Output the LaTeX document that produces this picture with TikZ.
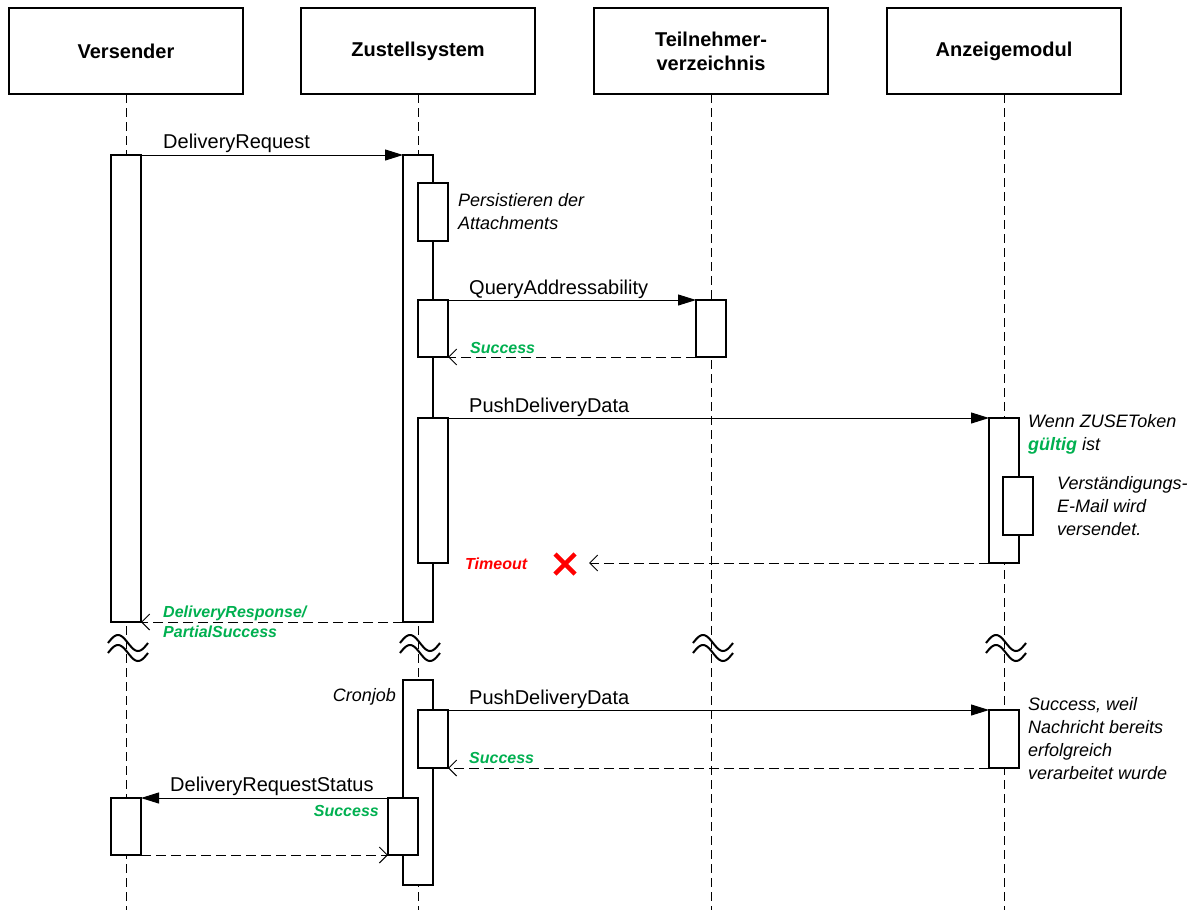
\documentclass[tikz,border=0pt]{standalone}
\usepackage{fontspec}
\setmainfont{Liberation Sans}
\usetikzlibrary{arrows.meta}
\definecolor{okgreen}{RGB}{0,176,80}
\definecolor{xred}{RGB}{255,0,0}
\newcommand\lifebreak[2]{%
  \draw[brk] plot[domain=0:360,samples=40] ({#1-20+\x/9},{#2-8*sin(\x)});
  \draw[brk] plot[domain=0:360,samples=40] ({#1-20+\x/9},{#2+10-8*sin(\x)});}
\begin{document}
\begin{tikzpicture}[x=1pt,y=-1pt,
 head/.style={draw, line width=1.5pt, minimum width=234pt, minimum height=86pt, inner sep=0pt, outer sep=0pt, align=center, font=\fontsize{20}{24}\selectfont\bfseries},
 life/.style={line width=1pt, dash pattern=on 9pt off 5pt},
 act/.style={draw, fill=white, line width=2pt, minimum width=30pt, inner sep=0pt, outer sep=0pt},
 call/.style={line width=1pt, -{Triangle[length=18pt,width=11pt]}},
 reply/.style={line width=1pt, dash pattern=on 10pt off 5pt, -{Straight Barb[length=8pt,width=16pt]}},
 lbl/.style={anchor=base west, inner sep=0pt, font=\fontsize{20}{24}\selectfont},
 note/.style={anchor=base west, inner sep=0pt, align=left, font=\fontsize{18}{23}\selectfont\itshape},
 glbl/.style={anchor=base west, inner sep=0pt, align=left, text=okgreen, font=\fontsize{16}{20}\selectfont\bfseries\itshape},
 brk/.style={line width=2pt},
]
\useasboundingbox (0,0) rectangle (1198,910);
% headers
\node[head] (hV) at (126,51) {Versender};
\node[head] (hZ) at (418,51) {Zustellsystem};
\node[head] (hT) at (711,51) {Teilnehmer-\\verzeichnis};
\node[head] (hA) at (1004,51) {Anzeigemodul};
% lifelines
\coordinate (eV) at (126,910);
\coordinate (eZ) at (418,910);
\coordinate (eT) at (711,910);
\coordinate (eA) at (1004,910);
\draw[life] (hV) -- (eV);
\draw[life] (hZ) -- (eZ);
\draw[life] (hT) -- (eT);
\draw[life] (hA) -- (eA);
% activation boxes, phase 1
\node[act, minimum height=467pt] (vA1) at (126,388.5) {};
\node[act, minimum height=467pt] (zA1) at (418,388.5) {};
\node[act, minimum height=58pt] (zN1) at (433,212) {};
\node[act, minimum height=57pt] (zN2) at (433,328.5) {};
\node[act, minimum height=57pt] (tA1) at (711,328.5) {};
\node[act, minimum height=145pt] (zN3) at (433,490.5) {};
\node[act, minimum height=145pt] (aA1) at (1004,490.5) {};
\node[act, minimum height=58pt] (aN1) at (1018,506) {};
% messages, phase 1
\draw[call] (vA1.north east) -- (zA1.north west);
\node[lbl] (tDR) at (163,148) {DeliveryRequest};
\node[note] (tPA) at (458,229) {Persistieren der\\Attachments};
\draw[call] (zN2.north east) -- (tA1.north west);
\node[lbl] (tQA) at (469,294) {QueryAddressability};
\draw[reply] (tA1.south west) -- (zN2.south east);
\node[glbl] (tS1) at (470,353) {Success};
\draw[call] (zN3.north east) -- (aA1.north west);
\node[lbl] (tPD1) at (469,412) {PushDeliveryData};
\node[note] (tWZ) at (1028,450) {Wenn ZUSEToken\\{\color{okgreen}\bfseries gültig} ist};
\node[note] (tVE) at (1057,535) {Verständigungs-\\E-Mail wird\\versendet.};
\coordinate (tmo) at (589,563);
\draw[reply] (aA1.south west) -- (tmo);
\coordinate (xm) at (565,564);
\draw[xred, line width=4.5pt] ([shift={(-10,-10)}]xm) -- ([shift={(10,10)}]xm);
\draw[xred, line width=4.5pt] ([shift={(-10,10)}]xm) -- ([shift={(10,-10)}]xm);
\node[glbl, text=xred] (tTO) at (465,569) {Timeout};
\draw[reply] (zA1.south west) -- (vA1.south east);
\node[glbl] (tDRS) at (163,637) {DeliveryResponse/\\PartialSuccess};
% breaks
\lifebreak{128}{643}
\lifebreak{420}{643}
\lifebreak{713}{643}
\lifebreak{1006}{643}
% phase 2
\node[act, minimum height=205pt] (zA2) at (418,782.5) {};
\node[act, minimum height=58pt] (zN4) at (433,739) {};
\node[act, minimum height=58pt] (aA2) at (1004,739) {};
\node[act, minimum height=57pt] (zN5) at (403,826.5) {};
\node[act, minimum height=57pt] (vA2) at (126,826.5) {};
\node[note, anchor=base east] (tCJ) at (396,701) {Cronjob};
\draw[call] (zN4.north east) -- (aA2.north west);
\node[lbl] (tPD2) at (469,704) {PushDeliveryData};
\draw[reply] (aA2.south west) -- (zN4.south east);
\node[glbl] (tS2) at (469,763) {Success};
\node[note] (tSW) at (1028,779) {Success, weil\\Nachricht bereits\\erfolgreich\\verarbeitet wurde};
\draw[call] (zN5.north west) -- (vA2.north east);
\node[lbl] (tDRQ) at (170,791) {DeliveryRequestStatus};
\node[glbl, anchor=base east] (tS3) at (379,816) {Success};
\draw[reply] (vA2.south east) -- (zN5.south west);
\end{tikzpicture}
\end{document}
